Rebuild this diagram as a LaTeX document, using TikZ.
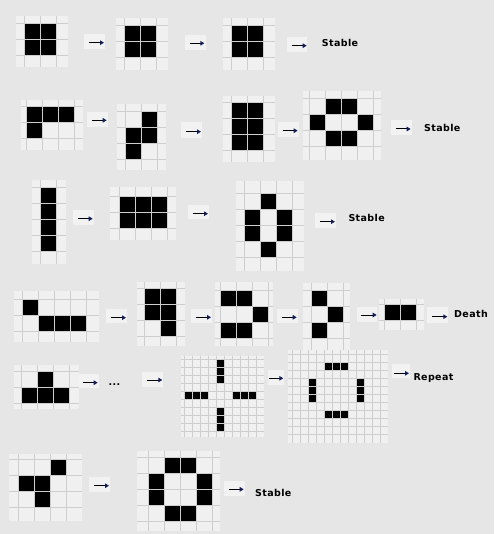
\documentclass[tikz,border=0pt]{standalone}
\usepackage{fontspec}
\usetikzlibrary{arrows.meta}
\newfontfamily\lblfont{DejaVu Sans Bold}[LetterSpace=4]
\definecolor{bgc}{RGB}{230,230,230}
\definecolor{cellc}{RGB}{240,240,240}
\definecolor{gridc}{RGB}{206,206,206}
\definecolor{boxc}{RGB}{242,242,242}
\definecolor{tipc}{RGB}{20,30,90}
\newcommand\lp{16}
% x0 y0 x1 y1 lx ly nx ny cells
\newcommand\lgrid[9]{%
  \fill[cellc] (#1,#2) rectangle (#3,#4);
  \foreach \c/\r in {#9} {\fill[black] ({#5+\c*\lp},{#6+\r*\lp}) rectangle ({#5+(\c+1)*\lp},{#6+(\r+1)*\lp});}
  \foreach \k in {1,...,#7} {\draw[gridline] ({#5+(\k-1)*\lp},#2) -- ({#5+(\k-1)*\lp},#4);}
  \foreach \k in {1,...,#8} {\draw[gridline] (#1,{#6+(\k-1)*\lp}) -- (#3,{#6+(\k-1)*\lp});}
}
% x0 y0 x1 y1 ax0 ax1 ay
\newcommand\arrbox[7]{%
  \fill[boxc] (#1,#2) rectangle (#3,#4);
  \draw[arr] (#5,#7) -- (#6,#7);
}
\begin{document}
\begin{tikzpicture}[x=1pt,y=-1pt,
  gridline/.style={draw=gridc,line width=1pt},
  arr/.style={line width=1pt,black,-{Triangle[length=4pt,width=4.5pt,color=tipc]}},
  lbl/.style={font=\lblfont\fontsize{9.5}{9.5}\selectfont,inner sep=0pt,anchor=base west,text=black}]
\fill[bgc] (0,0) rectangle (494,534);
\useasboundingbox (0,0) rectangle (494,534);

% Row A
\lgrid{16}{16}{68}{67}{24}{23.3}{3}{3}{0/0,1/0,0/1,1/1}
\arrbox{84}{34}{105}{48.7}{89}{104}{42.7}
\lgrid{116}{18.3}{168}{70}{124.3}{26}{3}{3}{0/0,1/0,0/1,1/1}
\arrbox{185}{35}{205.7}{50}{190}{204.3}{43.3}
\lgrid{223}{18.3}{275}{70}{231.3}{25.7}{3}{3}{0/0,1/0,0/1,1/1}
\arrbox{287}{37}{307}{51.7}{291.7}{306.7}{45.7}
\node[lbl] (t1) at (321.7,46.8) {Stable};

% Row B
\lgrid{21}{100}{83}{150}{26.7}{106.7}{4}{3}{0/0,1/0,2/0,0/1}
\arrbox{87.3}{111.7}{107.7}{127}{92}{106.7}{120.3}
\lgrid{116.7}{104}{166}{170}{125}{111.7}{3}{4}{1/0,0/1,1/1,0/2}
\arrbox{181}{122.3}{202.3}{137.7}{185.7}{201}{131.7}
\lgrid{223}{96}{275}{161.7}{231.3}{102.3}{3}{4}{0/0,1/0,0/1,1/1,0/2,1/2}
\arrbox{278.3}{122.3}{298.7}{136.7}{282.7}{297.7}{130.7}
\lgrid{303}{90.7}{381}{160}{309.7}{99}{5}{4}{1/0,2/0,0/1,3/1,1/2,2/2}
\arrbox{391.3}{120.3}{412}{135}{396}{410.7}{129}
\node[lbl] (t2) at (424,131.8) {Stable};

% Row C
\lgrid{32}{179.7}{66}{263.7}{40.7}{187.7}{2}{5}{0/0,0/1,0/2,0/3}
\arrbox{73}{210}{94}{225}{77.7}{92.7}{218.7}
\lgrid{110}{187}{176}{240}{119.3}{196.3}{4}{3}{0/0,1/0,2/0,0/1,1/1,2/1}
\arrbox{188.3}{205}{209}{219.3}{192.7}{208}{213.7}
\lgrid{236.3}{180.7}{304}{270.7}{244.7}{193.7}{4}{5}{1/0,0/1,2/1,0/2,2/2,1/3}
\arrbox{315}{213.3}{335.7}{227.7}{320}{335}{221.7}
\node[lbl] (t3) at (348.3,221.8) {Stable};

% Row D
\lgrid{14}{291}{99}{341.7}{22.7}{299}{5}{3}{0/0,1/1,2/1,3/1}
\arrbox{106}{308.7}{127}{323.3}{110.7}{126}{317.7}
\lgrid{137}{282}{185}{346}{144}{288.7}{3}{4}{0/0,1/0,0/1,1/1,1/2}
\arrbox{191}{308.7}{212}{322.7}{195.7}{211}{317.3}
\lgrid{215}{282}{272.7}{346}{220}{290}{4}{4}{0/0,1/0,2/1,0/2,1/2}
\arrbox{277}{308.7}{297.7}{322.7}{281.7}{296.7}{317.3}
\lgrid{303}{283.3}{350}{350}{311}{290}{3}{4}{0/0,1/1,0/2}
\arrbox{356.7}{306.7}{377.3}{321.7}{361}{376.7}{315}
\lgrid{379}{299}{424}{330}{384}{304.7}{3}{2}{0/0,1/0}
\arrbox{427.3}{306.7}{448.3}{322.7}{432}{447.3}{316.7}
\node[lbl] (t4) at (454,317.8) {Death};

% Row E
\lgrid{14}{365}{79}{409.3}{21}{371}{4}{3}{1/0,0/1,1/1,2/1}
\arrbox{79}{374.3}{99}{388.3}{82.7}{97.7}{382.7}
\node[lbl] (dots) at (108.5,385.8) {...};
\arrbox{142.3}{372.3}{163.3}{386.7}{147}{162.3}{380}
\renewcommand\lp{8}
\lgrid{180.7}{356}{264}{437.3}{184.3}{359.3}{10}{10}{4/0,4/1,4/2,0/4,1/4,2/4,6/4,7/4,8/4,4/6,4/7,4/8}
\arrbox{268.3}{370}{284.3}{385}{269.3}{283.3}{378.3}
\lgrid{287.7}{350}{388}{442.7}{292.3}{354.3}{12}{11}{4/1,5/1,6/1,2/3,2/4,2/5,8/3,8/4,8/5,4/7,5/7,6/7}
\arrbox{392}{364}{410}{378.3}{394.3}{409}{373.3}
\renewcommand\lp{16}
\node[lbl] (t5) at (413.3,380.8) {Repeat};

% Row F
\lgrid{9}{454}{81.7}{520.7}{18.3}{459.3}{4}{4}{2/0,0/1,1/1,1/2}
\arrbox{89}{477.3}{110}{491.7}{94.3}{109}{485.7}
\lgrid{137}{451}{220}{530.7}{148.7}{457.7}{5}{5}{1/0,2/0,0/1,3/1,0/2,3/2,1/3,2/3}
\arrbox{224}{480.7}{245}{496}{229.3}{243.7}{489.3}
\node[lbl] (t6) at (255,496.8) {Stable};
\end{tikzpicture}
\end{document}
